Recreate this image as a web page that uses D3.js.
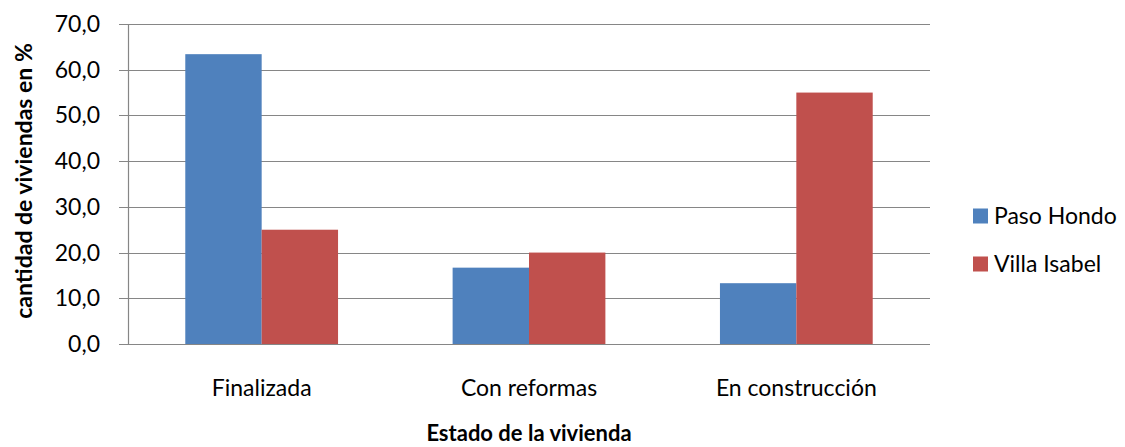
<!DOCTYPE html>
<html>
<head>
<meta charset="utf-8">
<script src="https://cdn.jsdelivr.net/npm/d3@7"></script>
<style>
  body { margin: 0; background: #fff; }
  svg text { font-family: Lato, "Open Sans", sans-serif; fill: #000; }
</style>
</head>
<body>
<div id="vis"></div>
<script>
const categories = ['Finalizada', 'Con reformas', 'En construcción'];
const seriesNames = ['Paso Hondo', 'Villa Isabel'];
const pasoHondo = [63.4, 16.7, 13.3];
const villaIsabel = [25.0, 20.0, 55.0];
const yTicks = [0, 10, 20, 30, 40, 50, 60, 70];
const colors = ['#4F81BD', '#C0504D'];

const width = 1125;
const height = 447;
const margin = { top: 24, left: 128, bottom: 103, right: 195 };

const svg = d3.select('#vis')
              .append('svg')
                .attr('width', width)
                .attr('height', height);

const x = d3.scaleBand()
            .domain(categories)
            .range([margin.left, width - margin.right])
            .paddingInner(0)
            .paddingOuter(0);

const y = d3.scaleLinear()
            .domain([0, 70])
            .range([height - margin.bottom, margin.top]);

// gridlines
svg.append('g')
  .selectAll('line')
  .data(yTicks)
  .enter()
  .append('line')
    .attr('x1', margin.left - 9)
    .attr('x2', width - margin.right)
    .attr('y1', (d) => Math.round(y(d)) + 0.5)
    .attr('y2', (d) => Math.round(y(d)) + 0.5)
    .attr('stroke', '#868686')
    .attr('stroke-width', 1.2);

// bars
const barW = x.bandwidth() / 3.5;
const data = [pasoHondo, villaIsabel];
data.forEach(function (vals, si) {
  svg.append('g')
    .selectAll('rect')
    .data(vals)
    .enter()
    .append('rect')
      .attr('x', (d, i) => x(categories[i]) + barW * 0.75 + si * barW)
      .attr('y', (d) => y(d))
      .attr('width', barW)
      .attr('height', (d) => y(0) - y(d))
      .attr('fill', colors[si]);
});

// y axis line
svg.append('line')
  .attr('x1', margin.left + 0.5)
  .attr('x2', margin.left + 0.5)
  .attr('y1', y(70))
  .attr('y2', y(0))
  .attr('stroke', '#868686')
  .attr('stroke-width', 1.2);

// y tick labels
svg.append('g')
  .selectAll('text')
  .data(yTicks)
  .enter()
  .append('text')
    .attr('x', 100)
    .attr('y', (d) => y(d))
    .attr('dy', '0.35em')
    .attr('text-anchor', 'end')
    .attr('font-size', 23)
    .text((d) => d3.format('.1f')(d).replace('.', ','));

// category labels
svg.append('g')
  .selectAll('text')
  .data(categories)
  .enter()
  .append('text')
    .attr('x', (d) => x(d) + x.bandwidth() / 2)
    .attr('y', 396)
    .attr('text-anchor', 'middle')
    .attr('font-size', 23)
    .text((d) => d);

// axis titles
svg.append('text')
  .attr('x', (margin.left + width - margin.right) / 2)
  .attr('y', 441)
  .attr('text-anchor', 'middle')
  .attr('font-size', 22)
  .attr('font-weight', 'bold')
  .text('Estado de la vivienda');

svg.append('text')
  .attr('transform', 'translate(24,181) rotate(-90)')
  .attr('dy', '0.35em')
  .attr('text-anchor', 'middle')
  .attr('font-size', 23)
  .attr('font-weight', 'bold')
  .text('cantidad de viviendas en %');

// legend
const legend = svg.append('g')
  .selectAll('g')
  .data(seriesNames)
  .enter()
  .append('g')
    .attr('transform', (d, i) => 'translate(973,' + (216 + i * 48) + ')');

legend.append('rect')
  .attr('x', 0)
  .attr('y', -7.5)
  .attr('width', 15)
  .attr('height', 15)
  .attr('fill', (d, i) => colors[i]);

legend.append('text')
  .attr('x', 21)
  .attr('y', 0)
  .attr('dy', '0.35em')
  .attr('font-size', 23)
  .text((d) => d);
</script>
</body>
</html>
